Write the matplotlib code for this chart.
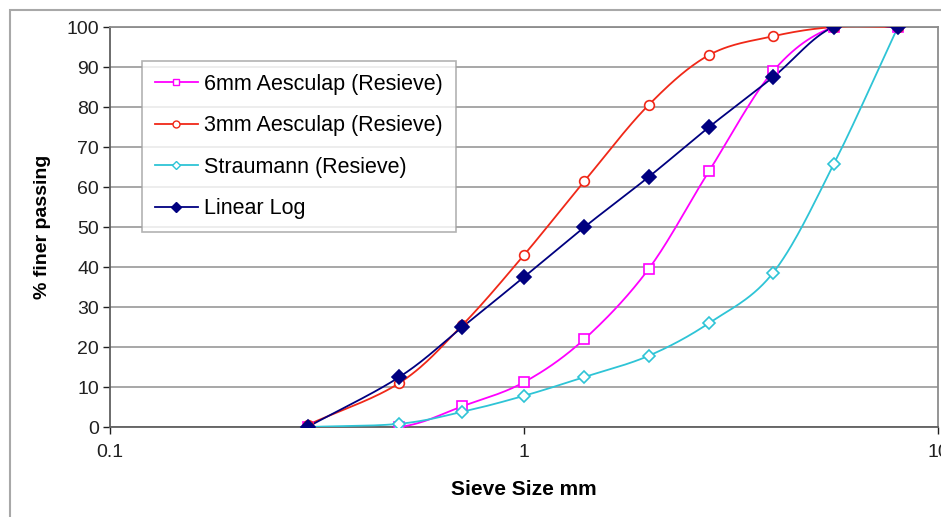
import numpy as np
import matplotlib.pyplot as plt
from matplotlib.patches import Rectangle
from matplotlib.ticker import FixedLocator, NullLocator, FuncFormatter

plt.rcParams["font.family"] = ["Liberation Sans", "DejaVu Sans"]

# sieve sizes (mm) and % finer passing per sample
sieve_mm = [0.3, 0.5, 0.71, 1.0, 1.4, 2.0, 2.8, 4.0, 5.6, 8.0]
aesculap_6mm = [0.0, 0.0, 5.2, 11.2, 22.0, 39.5, 64.0, 89.0, 100.0, 100.0]
aesculap_3mm = [0.5, 11.0, 25.5, 43.0, 61.5, 80.5, 93.0, 97.7, 100.0, 100.0]
straumann = [0.0, 0.8, 3.8, 7.8, 12.5, 17.8, 26.0, 38.6, 65.7, 100.0]
linear_log = [0.0, 12.5, 25.0, 37.5, 50.0, 62.5, 75.0, 87.5, 100.0, 100.0]

series = [
    ("6mm Aesculap (Resieve)", aesculap_6mm, "#FF00FF", "s", "none", 7),
    ("3mm Aesculap (Resieve)", aesculap_3mm, "#F02818", "o", "none", 7),
    ("Straumann (Resieve)", straumann, "#2EC4D6", "D", "none", 6),
    ("Linear Log", linear_log, "#000080", "D", "#000080", 7),
]


def smooth(xs, ys, n=30):
    # Catmull-Rom through the points, done in log-x space
    px = np.log10(np.asarray(xs, float))
    py = np.asarray(ys, float)
    px = np.concatenate([[2 * px[0] - px[1]], px, [2 * px[-1] - px[-2]]])
    py = np.concatenate([[2 * py[0] - py[1]], py, [2 * py[-1] - py[-2]]])
    outx, outy = [], []
    t = np.linspace(0, 1, n, endpoint=False)
    for i in range(1, len(px) - 2):
        for arr, out in ((px, outx), (py, outy)):
            p0, p1, p2, p3 = arr[i - 1], arr[i], arr[i + 1], arr[i + 2]
            out.extend(0.5 * (2 * p1 + (-p0 + p2) * t
                              + (2 * p0 - 5 * p1 + 4 * p2 - p3) * t ** 2
                              + (-p0 + 3 * p1 - 3 * p2 + p3) * t ** 3))
    outx.append(px[-2])
    outy.append(py[-2])
    return 10 ** np.array(outx), np.array(outy)


fig = plt.figure(figsize=(9.41, 5.17), dpi=100)
ax = fig.add_axes([110 / 941, 90 / 517, 828 / 941, 400 / 517])

# chart area border
fig.patches.append(Rectangle((10 / 941, -0.1), 1.2, (517 - 10) / 517 + 0.1,
                             transform=fig.transFigure, fill=False,
                             edgecolor="#A8A8A8", lw=1.5, zorder=0))

handles = []
for label, vals, color, marker, face, ms in series:
    sx, sy = smooth(sieve_mm, vals)
    ax.plot(sx, sy, color=color, lw=1.3, zorder=3)
    ax.plot(sieve_mm, vals, ls="none", marker=marker, ms=ms,
            mfc=face if face != "none" else "white", mec=color, mew=1.2, zorder=4)
    h, = ax.plot([], [], color=color, lw=1.3, marker=marker, ms=ms - 2,
                 mfc=face if face != "none" else "white", mec=color, mew=1.0)
    handles.append(h)

ax.set_xscale("log")
ax.set_xlim(0.1, 10)
ax.set_ylim(0, 100)
ax.xaxis.set_major_locator(FixedLocator([0.1, 1, 10]))
ax.xaxis.set_minor_locator(NullLocator())
ax.xaxis.set_major_formatter(FuncFormatter(lambda v, p: f"{v:g}"))
ax.set_yticks(range(0, 101, 10))
ax.grid(axis="y", color="#A0A0A0", lw=1.3)
ax.set_axisbelow(True)
for s in ax.spines.values():
    s.set_color("#8C8C8C")
    s.set_linewidth(1.3)
ax.spines["left"].set_color("#606060")
ax.spines["bottom"].set_color("#606060")
ax.tick_params(axis="both", labelsize=14, colors="#202020", length=5,
               width=1.0, direction="out", pad=3)
ax.tick_params(axis="x", pad=7)

ax.set_xlabel("Sieve Size mm", fontsize=15, fontweight="bold", labelpad=14)
ax.set_ylabel("% finer passing", fontsize=14, fontweight="bold", labelpad=11)

leg = ax.legend(handles, [s[0] for s in series], loc="upper left",
                bbox_to_anchor=(32 / 828, (427 - 61) / 400), borderaxespad=0,
                fontsize=15.5, frameon=True, fancybox=False, labelspacing=0.95,
                handlelength=2.0, handletextpad=0.3, borderpad=0.6)
leg.get_frame().set_edgecolor("#A0A0A0")
leg.get_frame().set_linewidth(1.2)

fig.savefig("out.png", dpi=100)
